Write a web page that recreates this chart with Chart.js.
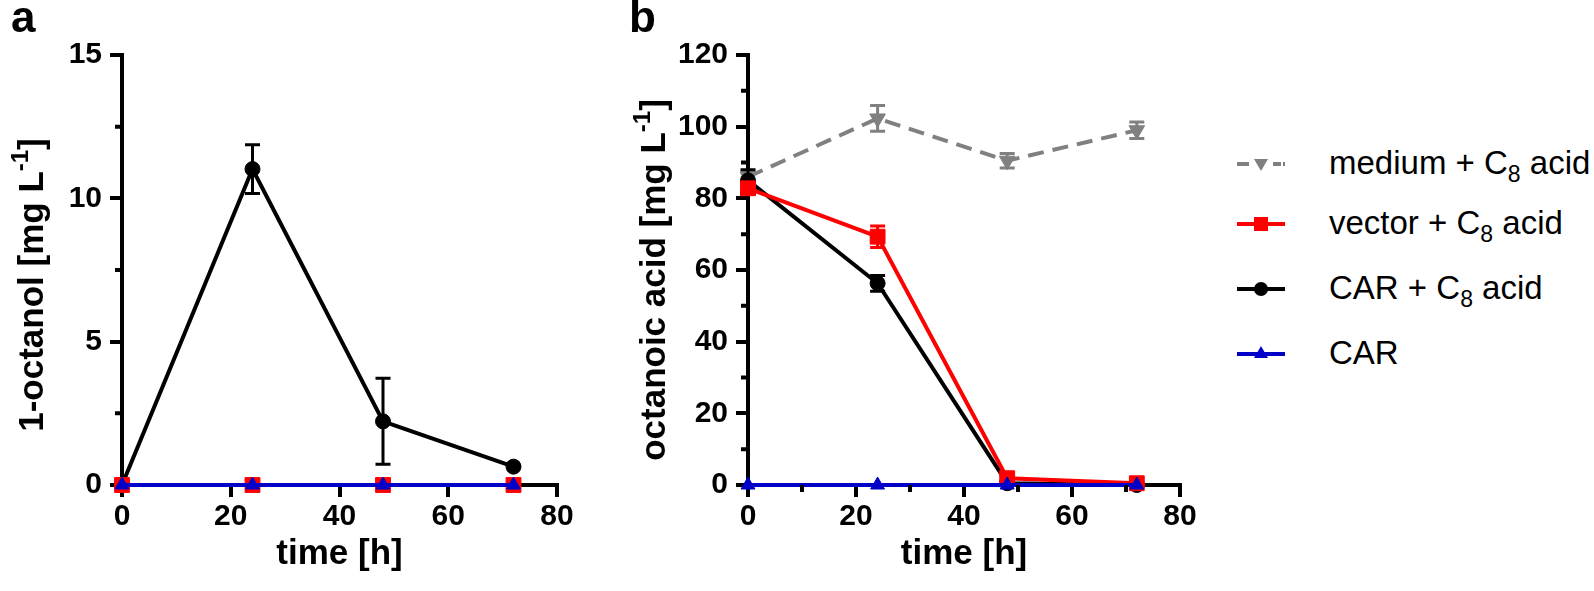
<!DOCTYPE html>
<html>
<head>
<meta charset="utf-8">
<script src="https://cdn.jsdelivr.net/npm/chart.js@4.4.0/dist/chart.umd.min.js"></script>
<style>
  body { margin: 0; background: #fff; font-family: "Liberation Sans", Arial, sans-serif; }
  #wrap { position: relative; width: 1594px; height: 591px; overflow: hidden; }
  canvas { position: absolute; top: 0; }
  .panel { position: absolute; font-weight: bold; font-size: 44px; line-height: 1; }
  .ytitle { position: absolute; font-weight: bold; font-size: 35px; white-space: nowrap;
            transform: translate(-50%, -50%) rotate(-90deg); line-height: 1; }
  .ytitle sup { font-size: 24px; vertical-align: 0.6em; line-height: 0; }
  .leg { position: absolute; left: 1237px; font-size: 33px; white-space: nowrap; line-height: 1; }
  .leg svg { position: absolute; left: 0; top: -15px; }
  .leg span { position: absolute; left: 92px; top: -18px; }
  .leg sub { font-size: 23px; vertical-align: -0.35em; line-height: 0; }
</style>
</head>
<body>
<div id="wrap">
  <canvas id="chartA" width="600" height="591" style="left:0"></canvas>
  <canvas id="chartB" width="600" height="591" style="left:620px"></canvas>
  <div class="panel" style="left:11px; top:-5px">a</div>
  <div class="panel" style="left:629px; top:-5px">b</div>
  <div class="ytitle" style="left:30px; top:285px">1-octanol [mg L<sup>-1</sup>]</div>
  <div class="ytitle" style="left:652px; top:280px">octanoic acid [mg L<sup>-1</sup>]</div>
  <div id="legend"></div>
</div>
<script>
// sampling times (h)
const hours = [0, 24, 48, 72]

// panel a: 1-octanol (mg/L)
const octanolCarC8 = [0, 11.02, 2.22, 0.64]
const octanolCarC8Err = [0, 0.85, 1.5, 0]
const octanolVector = [0, 0, 0, 0]
const octanolCar = [0, 0, 0, 0]

// panel b: octanoic acid (mg/L)
const acidMedium = [86, 102.3, 90.5, 99]
const acidMediumErr = [1.5, 3.6, 2, 2.3]
const acidVector = [82.8, 69.3, 1.9, 0.5]
const acidVectorErr = [1.5, 3, 0.8, 0.5]
const acidCarC8 = [85, 56.3, 0.5, 0]
const acidCarC8Err = [3, 2.2, 0.5, 0]
const acidCar = [0, 0, 0, 0]

const legendItems = ['medium', 'vector', 'CAR', 'CAR']

const GRAY = 'rgb(128,128,128)'
const RED = 'rgb(255,0,0)'
const BLACK = 'rgb(0,0,0)'
const BLUE = 'rgb(0,0,200)'

function pts(values) {
    return values.map((v, i) => ({x: hours[i], y: v}))
}

// vertical error bars with caps, drawn through the y scale
const errorBars = {
    id: 'errorBars',
    afterDatasetDraw(chart, args) {
        const ds = chart.data.datasets[args.index]
        if (!ds.errors) return
        const yScale = chart.scales.y
        const ctx = chart.ctx
        ctx.save()
        ctx.strokeStyle = ds.borderColor
        ctx.lineWidth = 3
        ctx.setLineDash([])
        args.meta.data.forEach((pt, i) => {
            const e = ds.errors[i]
            if (!e) return
            const v = ds.data[i].y
            const top = yScale.getPixelForValue(v + e)
            const bot = yScale.getPixelForValue(v - e)
            ctx.beginPath()
            ctx.moveTo(pt.x, top); ctx.lineTo(pt.x, bot)
            ctx.moveTo(pt.x - 7.5, top); ctx.lineTo(pt.x + 7.5, top)
            ctx.moveTo(pt.x - 7.5, bot); ctx.lineTo(pt.x + 7.5, bot)
            ctx.stroke()
        })
        ctx.restore()
    }
}

// short minor ticks between the labelled ones
const minorTicks = {
    id: 'minorTicks',
    afterDraw(chart, args, opts) {
        const ctx = chart.ctx
        const area = chart.chartArea
        ctx.save()
        ctx.strokeStyle = '#000'
        ctx.lineWidth = 4
        ctx.beginPath()
        const xs = chart.scales.x, ys = chart.scales.y
        if (opts.x) {
            for (let v = xs.min; v <= xs.max; v += opts.x) {
                if (v % (opts.x * 2) === 0) continue
                const p = xs.getPixelForValue(v)
                ctx.moveTo(p, area.bottom); ctx.lineTo(p, area.bottom + 7)
            }
        }
        if (opts.y) {
            for (let v = ys.min; v <= ys.max; v += opts.y) {
                if (v % (opts.y * 2) === 0) continue
                const p = ys.getPixelForValue(v)
                ctx.moveTo(area.left, p); ctx.lineTo(area.left - 7, p)
            }
        }
        ctx.stroke()
        ctx.restore()
    }
}

function line(label, values, color, style, radius, extra) {
    return Object.assign({
        label: label,
        data: pts(values),
        borderColor: color,
        backgroundColor: color,
        borderWidth: 4,
        pointStyle: style,
        pointRadius: radius,
        pointHoverRadius: radius,
        pointBorderWidth: 1,
        tension: 0,
        clip: false
    }, extra || {})
}

function axisOptions(max, step, leftWidth) {
    return {
        x: {
            type: 'linear', min: 0, max: 80,
            ticks: {stepSize: 20, color: '#000', padding: 2, font: {family: 'Liberation Sans', weight: 'bold', size: 30}},
            grid: {drawOnChartArea: false, tickLength: 12, tickWidth: 4, tickColor: '#000', lineWidth: 4},
            border: {display: true, color: '#000', width: 4},
            title: {display: true, text: 'time [h]', color: '#000', padding: {top: 0, bottom: 16},
                    font: {family: 'Liberation Sans', weight: 'bold', size: 35}},
            afterFit: (s) => { s.height = 106 }
        },
        y: {
            type: 'linear', min: 0, max: max,
            ticks: {stepSize: step, color: '#000', padding: 8, font: {family: 'Liberation Sans', weight: 'bold', size: 30}},
            grid: {drawOnChartArea: false, tickLength: 12, tickWidth: 4, tickColor: '#000', lineWidth: 4},
            border: {display: true, color: '#000', width: 4},
            afterFit: (s) => { s.width = leftWidth }
        }
    }
}

function makeChart(id, datasets, max, step, leftWidth, rightPad, minor) {
    return new Chart(document.getElementById(id), {
        type: 'line',
        data: {datasets: datasets},
        options: {
            responsive: false,
            animation: false,
            devicePixelRatio: 1,
            layout: {padding: {left: 0, right: rightPad, top: 55, bottom: 0}},
            scales: axisOptions(max, step, leftWidth),
            plugins: {legend: {display: false}, tooltip: {enabled: false}, minorTicks: minor}
        },
        plugins: [errorBars, minorTicks]
    })
}

makeChart('chartA', [
    line('CAR', octanolCar, BLUE, 'triangle', 8),
    line('vector + C8 acid', octanolVector, RED, 'rect', 10.5),
    line('CAR + C8 acid', octanolCarC8, BLACK, 'circle', 7.5, {errors: octanolCarC8Err})
], 15, 5, 122, 43, {y: 2.5})

makeChart('chartB', [
    line('CAR', acidCar, BLUE, 'triangle', 8),
    line('vector + C8 acid', acidVector, RED, 'rect', 10.5, {errors: acidVectorErr}),
    line('CAR + C8 acid', acidCarC8, BLACK, 'circle', 7.5, {errors: acidCarC8Err}),
    line('medium + C8 acid', acidMedium, GRAY, 'triangle', 9, {errors: acidMediumErr, borderDash: [16, 9], pointRotation: 180})
], 120, 20, 128, 40, {x: 10, y: 10})

// legend, built as html so that C8 can carry a real subscript
const legendRows = [
    {name: legendItems[0], acid: true, color: GRAY, mark: 'down', dash: true, y: 164},
    {name: legendItems[1], acid: true, color: RED, mark: 'square', y: 224},
    {name: legendItems[2], acid: true, color: BLACK, mark: 'circle', y: 289},
    {name: legendItems[3], acid: false, color: BLUE, mark: 'up', y: 354}
]
const legendEl = document.getElementById('legend')
legendRows.forEach(r => {
    let mark = ''
    if (r.mark === 'circle') mark = `<circle cx="24" cy="15" r="7" fill="${r.color}"/>`
    if (r.mark === 'square') mark = `<rect x="17" y="8" width="14" height="14" fill="${r.color}"/>`
    if (r.mark === 'up') mark = `<polygon points="24,7 31,19 17,19" fill="${r.color}"/>`
    if (r.mark === 'down') mark = `<polygon points="17,10 31,10 24,22" fill="${r.color}"/>`
    const lineEl = r.dash
        ? `<line x1="0" y1="15" x2="12" y2="15" stroke="${r.color}" stroke-width="4"/><line x1="36" y1="15" x2="44" y2="15" stroke="${r.color}" stroke-width="4"/><line x1="46" y1="15" x2="48" y2="15" stroke="${r.color}" stroke-width="4"/>`
        : `<line x1="0" y1="15" x2="48" y2="15" stroke="${r.color}" stroke-width="4"/>`
    const text = r.acid ? `${r.name} + C<sub>8</sub> acid` : r.name
    const row = document.createElement('div')
    row.className = 'leg'
    row.style.top = r.y + 'px'
    row.innerHTML = `<svg width="50" height="30">${lineEl}${mark}</svg><span>${text}</span>`
    legendEl.appendChild(row)
})
</script>
</body>
</html>
